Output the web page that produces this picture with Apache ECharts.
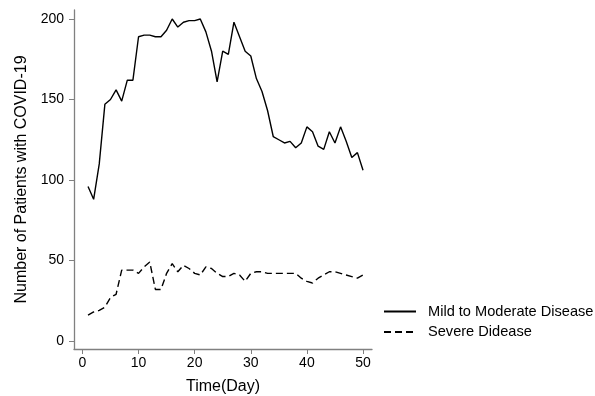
<!DOCTYPE html>
<html>
<head>
<meta charset="utf-8">
<script src="https://cdn.jsdelivr.net/npm/echarts@6/dist/echarts.min.js"></script>
<style>
  html, body { margin: 0; padding: 0; background: #fff; }
  #chart { width: 595px; height: 396px; }
</style>
</head>
<body>
<div id="chart"></div>
<script>
// days 1..50
const days = Array.from({ length: 50 }, (_, i) => i + 1)

const mildValues = [
  96, 88, 110, 147, 150, 156, 149, 162, 162, 189,
  190, 190, 189, 189, 193, 200, 195, 198, 199, 199,
  200, 192, 180, 161, 180, 178, 198, 189, 180, 177,
  163, 155, 143, 127, 125, 123, 124, 120, 123, 133,
  130, 121, 119, 130, 123, 133, 124, 114, 117, 106
]

const severeValues = [
  16, 18, 19, 21, 27, 29, 44, 44, 44, 42,
  46, 49, 32, 32, 42, 48, 43, 47, 45, 42,
  41, 46, 45, 42, 40, 40, 42, 41, 37, 42,
  43, 43, 42, 42, 42, 42, 42, 42, 39, 37,
  36, 39, 41, 43, 43, 42, 41, 40, 39, 41
]

const xTicks = [0, 10, 20, 30, 40, 50]
const yTicks = [0, 50, 100, 150, 200]

const seriesNames = ['Mild to Moderate Disease', 'Severe Didease']

const chart = echarts.init(document.getElementById('chart'))
const font = 'Liberation Sans, Arial, sans-serif'
const axisGrey = '#808080'

chart.setOption({
  animation: false,
  textStyle: { fontFamily: font },
  grid: { left: 74, right: 223, top: 10, bottom: 47, outerBoundsMode: 'none' },
  legend: {
    data: seriesNames,
    orient: 'vertical',
    left: 378,
    top: 299,
    itemWidth: 32,
    itemHeight: 14,
    itemGap: 5.5,
    itemStyle: { opacity: 0 },
    textStyle: { fontSize: 14.6, color: '#000', fontFamily: font, padding: [0, 0, 0, 7] }
  },
  xAxis: {
    type: 'value',
    min: -1.5,
    max: 51.6,
    name: 'Time(Day)',
    nameLocation: 'middle',
    nameGap: 30,
    nameTextStyle: { fontSize: 16, color: '#000' },
    axisLine: { onZero: false, lineStyle: { color: axisGrey, width: 1.3 } },
    axisTick: { show: true, length: 5, customValues: xTicks, lineStyle: { color: axisGrey } },
    axisLabel: { customValues: xTicks, color: '#000', fontSize: 14, margin: 7 },
    splitLine: { show: false }
  },
  yAxis: {
    type: 'value',
    min: -5,
    max: 205.6,
    name: 'Number of Patients with COVID-19',
    nameLocation: 'middle',
    nameGap: 44,
    nameTextStyle: { fontSize: 16, color: '#000' },
    axisLine: { show: true, onZero: false, lineStyle: { color: axisGrey, width: 1.3 } },
    axisTick: { show: true, length: 5, customValues: yTicks, lineStyle: { color: axisGrey } },
    axisLabel: { customValues: yTicks, color: '#000', fontSize: 14, margin: 10 },
    splitLine: { show: false }
  },
  series: [
    {
      name: seriesNames[0],
      type: 'line',
      data: days.map((d, i) => [d, mildValues[i]]),
      symbol: 'none',
      color: '#000',
      lineStyle: { color: '#000', width: 1.4 }
    },
    {
      name: seriesNames[1],
      type: 'line',
      data: days.map((d, i) => [d, severeValues[i]]),
      symbol: 'none',
      color: '#000',
      lineStyle: { color: '#000', width: 1.4, type: [7, 4] }
    }
  ]
})
</script>
</body>
</html>
